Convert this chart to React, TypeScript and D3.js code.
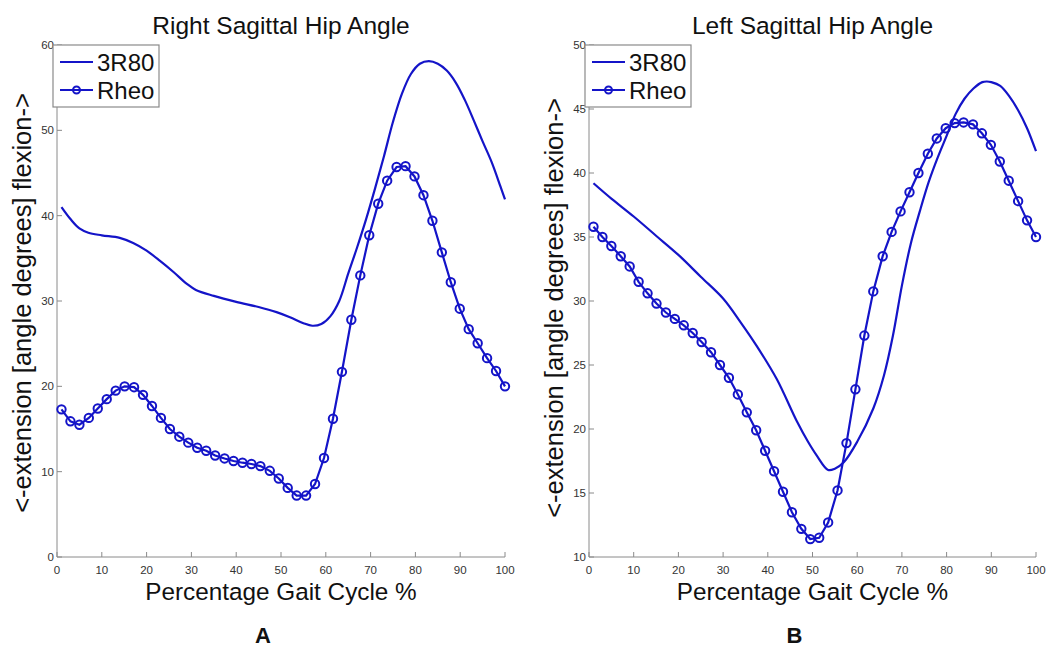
import React from 'react'
import * as d3 from 'd3'

// sample positions (% gait cycle) of the marked Rheo curves
const rheoPct = [1, 3, 5, 7.1, 9.1, 11.1, 13.1, 15.1, 17.2, 19.2, 21.2, 23.2, 25.2, 27.3, 29.3, 31.3, 33.3, 35.3, 37.4, 39.4,
  41.4, 43.4, 45.4, 47.5, 49.5, 51.5, 53.5, 55.6, 57.6, 59.6, 61.6, 63.6, 65.7, 67.7, 69.7, 71.7, 73.7, 75.8, 77.8, 79.8,
  81.8, 83.8, 85.9, 87.9, 89.9, 91.9, 93.9, 96, 98, 100]

const rightRheo = [17.3, 15.9, 15.5, 16.3, 17.4, 18.5, 19.5, 20.0, 19.9, 19.0, 17.7, 16.3, 15.0, 14.1, 13.4, 12.8, 12.45, 11.9, 11.55, 11.25,
  11.05, 10.9, 10.65, 10.1, 9.2, 8.1, 7.2, 7.2, 8.55, 11.6, 16.2, 21.7, 27.8, 33.0, 37.7, 41.4, 44.1, 45.7, 45.8, 44.6,
  42.4, 39.4, 35.7, 32.2, 29.1, 26.7, 25.05, 23.3, 21.8, 20.0]

const right3R80X = [1, 3, 5, 7, 10, 14, 17, 20, 23, 26, 29, 31, 35, 40, 45, 49, 52, 55, 57, 59, 61, 63, 65, 67, 69, 71, 73, 75,
  77, 79, 81, 83, 85, 87, 89, 91, 93, 95, 97, 99, 100]
const right3R80 = [41.0, 39.6, 38.5, 38.0, 37.7, 37.4, 36.8, 35.9, 34.7, 33.4, 32.0, 31.3, 30.6, 29.9, 29.3, 28.7, 28.1, 27.4, 27.1, 27.3,
  28.2, 30.0, 33.2, 36.3, 39.6, 43.2, 47.0, 51.0, 54.3, 56.6, 57.8, 58.1, 57.8, 57.0, 55.6, 53.6, 51.2, 48.7, 46.3, 43.4, 41.9]

const leftRheo = [35.8, 35.0, 34.3, 33.5, 32.7, 31.5, 30.6, 29.8, 29.1, 28.6, 28.1, 27.5, 26.8, 26.0, 25.0, 24.0, 22.7, 21.3, 19.9, 18.3,
  16.7, 15.1, 13.5, 12.2, 11.4, 11.5, 12.7, 15.2, 18.9, 23.1, 27.3, 30.75, 33.5, 35.4, 37.0, 38.5, 40.0, 41.5, 42.7, 43.5,
  43.9, 43.95, 43.8, 43.1, 42.2, 40.9, 39.4, 37.8, 36.3, 35.0]

const left3R80X = [1, 5, 10, 15, 20, 25, 30, 34, 37.5, 42, 46.5, 49, 51, 53.5, 55, 57, 60, 63.6, 66, 68, 70, 72, 74, 76, 78, 80,
  82, 84, 86, 88, 89, 90, 92, 94, 96, 98, 100]
const left3R80 = [39.2, 38.0, 36.6, 35.1, 33.6, 31.9, 30.2, 28.3, 26.5, 23.9, 20.6, 19.0, 17.9, 16.8, 16.9, 17.4, 19.0, 21.6, 24.2, 27.3,
  31.2, 34.5, 37.0, 39.3, 41.2, 42.9, 44.6, 45.8, 46.6, 47.1, 47.15, 47.1, 46.8, 46.0, 44.9, 43.5, 41.7]

const xTicks = [0, 10, 20, 30, 40, 50, 60, 70, 80, 90, 100]
const rightYTicks = [0, 10, 20, 30, 40, 50, 60]
const leftYTicks = [10, 15, 20, 25, 30, 35, 40, 45, 50]

const seriesNames = ['3R80', 'Rheo']

const BLUE = '#1414c8'
const AXIS = '#8a8a8a'
const FONT = '"Liberation Sans", Arial, sans-serif'

interface PanelProps {
  title: string
  letter: string
  left: number
  right: number
  yDomain: [number, number]
  yTicks: number[]
  lineX: number[]
  lineY: number[]
  rheoY: number[]
  yLabelCenter: number
}

const Panel = (props: PanelProps) => {
  const top = 45
  const bottom = 557
  const x = d3.scaleLinear().domain([0, 100]).range([props.left, props.right])
  const y = d3.scaleLinear().domain(props.yDomain).range([bottom, top])

  const smooth = d3.line<[number, number]>()
    .x(d => x(d[0]))
    .y(d => y(d[1]))
    .curve(d3.curveCatmullRom.alpha(0.5))
  const straight = d3.line<[number, number]>()
    .x(d => x(d[0]))
    .y(d => y(d[1]))

  const linePts = props.lineX.map((v, i) => [v, props.lineY[i]] as [number, number])
  const rheoPts = rheoPct.map((v, i) => [v, props.rheoY[i]] as [number, number])
  const mid = (props.left + props.right) / 2

  const lgX = props.left - 4
  const lgY = top

  return (
    <g>
      <text x={mid} y={34} textAnchor='middle' fontSize={24.5} fontFamily={FONT} fill='#111'>{props.title}</text>

      {/* axes: left and bottom only, ticks pointing in */}
      <line x1={props.left} x2={props.left} y1={top} y2={bottom} stroke={AXIS} />
      <line x1={props.left} x2={props.right} y1={bottom} y2={bottom} stroke={AXIS} />
      {xTicks.map(t => (
        <g key={'x' + t}>
          <line x1={x(t)} x2={x(t)} y1={bottom} y2={bottom - 5} stroke={AXIS} />
          <text x={x(t)} y={bottom + 17} textAnchor='middle' fontSize={11.5} fontFamily={FONT} fill='#333'>{t}</text>
        </g>
      ))}
      {props.yTicks.map(t => (
        <g key={'y' + t}>
          <line x1={props.left} x2={props.left + 5} y1={y(t)} y2={y(t)} stroke={AXIS} />
          <text x={props.left - 3} y={y(t) + 4} textAnchor='end' fontSize={11.5} fontFamily={FONT} fill='#333'>{t}</text>
        </g>
      ))}

      <path d={smooth(linePts) || ''} fill='none' stroke={BLUE} strokeWidth={2.2} />
      <path d={straight(rheoPts) || ''} fill='none' stroke={BLUE} strokeWidth={2.2} />
      {rheoPts.map((p, i) => (
        <circle key={i} cx={x(p[0])} cy={y(p[1])} r={4.2} fill='none' stroke={BLUE} strokeWidth={2} />
      ))}

      <text x={mid} y={600} textAnchor='middle' fontSize={24.3} fontFamily={FONT} fill='#111'>Percentage Gait Cycle %</text>
      <text transform={`translate(${props.left - 26},${props.yLabelCenter}) rotate(-90)`} textAnchor='middle'
        fontSize={25.5} fontFamily={FONT} fill='#111'>{'<-extension [angle degrees] flexion->'}</text>

      {/* legend */}
      <rect x={lgX} y={lgY} width={106} height={62} fill='#fff' stroke={AXIS} strokeWidth={1.2} />
      {seriesNames.map((name, i) => {
        const ly = lgY + 17 + i * 28
        return (
          <g key={name}>
            <line x1={lgX + 7} x2={lgX + 40} y1={ly} y2={ly} stroke={BLUE} strokeWidth={2.2} />
            {i === 1 && <circle cx={lgX + 23.5} cy={ly} r={3.5} fill='none' stroke={BLUE} strokeWidth={2} />}
            <text x={lgX + 44} y={ly + 8.5} fontSize={24} fontFamily={FONT} fill='#111'>{name}</text>
          </g>
        )
      })}

      <text x={mid - 18} y={643} textAnchor='middle' fontSize={22} fontWeight='bold' fontFamily={FONT} fill='#111'>{props.letter}</text>
    </g>
  )
}

export default function App() {
  return (
    <svg width={1062} height={648} style={{ position: 'absolute', left: 0, top: 0, background: '#fff' }}>
      <rect width={1062} height={648} fill='#fff' />
      <Panel title='Right Sagittal Hip Angle' letter='A' left={57} right={505} yDomain={[0, 60]} yTicks={rightYTicks}
        lineX={right3R80X} lineY={right3R80} rheoY={rightRheo} yLabelCenter={303} />
      <Panel title='Left Sagittal Hip Angle' letter='B' left={589} right={1036} yDomain={[10, 50]} yTicks={leftYTicks}
        lineX={left3R80X} lineY={left3R80} rheoY={leftRheo} yLabelCenter={308} />
    </svg>
  )
}
